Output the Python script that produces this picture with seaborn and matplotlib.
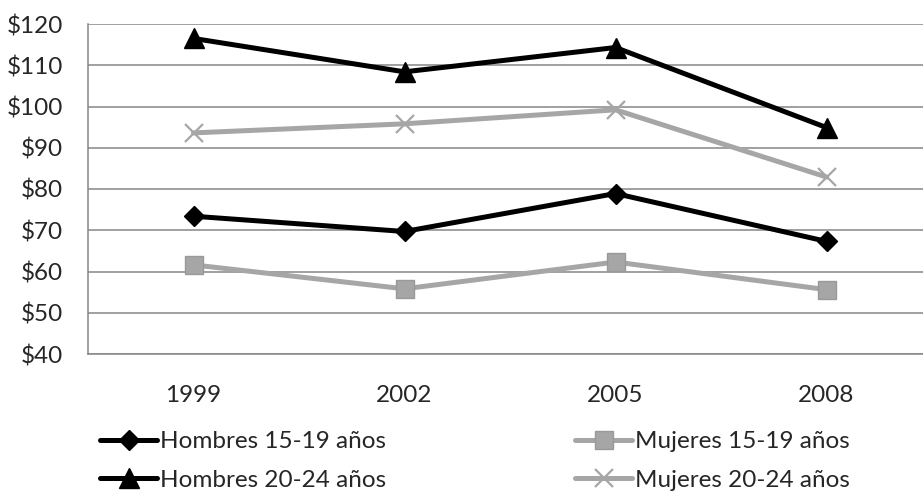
import pandas as pd
import matplotlib
matplotlib.use('Agg')
import matplotlib.pyplot as plt
import matplotlib.ticker as mticker
import seaborn as sns

# datos
anios = ['1999', '2002', '2005', '2008']
hombres_15_19 = [73.4, 69.7, 78.9, 67.3]
mujeres_15_19 = [61.6, 55.8, 62.3, 55.6]
hombres_20_24 = [116.5, 108.4, 114.3, 94.9]
mujeres_20_24 = [93.6, 95.8, 99.2, 82.9]

series = {
    'Hombres 15-19 años': hombres_15_19,
    'Mujeres 15-19 años': mujeres_15_19,
    'Hombres 20-24 años': hombres_20_24,
    'Mujeres 20-24 años': mujeres_20_24,
}

NEGRO = '#000000'
GRIS = '#A6A6A6'
GRIS_EJE = '#868686'
FS = 17.5

estilos = {
    'Hombres 15-19 años': dict(color=NEGRO, marker='D', ms=10, mfc=NEGRO, mec=NEGRO),
    'Mujeres 15-19 años': dict(color=GRIS, marker='s', ms=13, mfc=GRIS, mec='#999999'),
    'Hombres 20-24 años': dict(color=NEGRO, marker='^', ms=14, mfc=NEGRO, mec=NEGRO),
    'Mujeres 20-24 años': dict(color=GRIS, marker='x', ms=13, mfc=GRIS, mec=GRIS, mew=1.6),
}

df = pd.DataFrame([
    {'Anio': a, 'Valor': v, 'Serie': s}
    for s, vals in series.items() for a, v in zip(anios, vals)
])

sns.set_style('white')
plt.rcParams['font.family'] = ['Lato', 'DejaVu Sans']

fig = plt.figure(figsize=(9.23, 4.91), dpi=100)
W, H = 923, 491
ax = fig.add_axes([88 / W, 1 - 354 / H, 844 / W, 330 / H])

for nombre in series:
    sub = df[df['Serie'] == nombre]
    est = estilos[nombre]
    sns.lineplot(data=sub, x='Anio', y='Valor', ax=ax, color=est['color'],
                 linewidth=3.6, marker=est['marker'], markersize=est['ms'],
                 markerfacecolor=est['mfc'], markeredgecolor=est['mec'],
                 markeredgewidth=est.get('mew', 1), label=nombre, zorder=3)

ax.set_xlim(-0.5, 3.5)
ax.set_ylim(40, 120)
ax.yaxis.set_major_locator(mticker.MultipleLocator(10))
ax.yaxis.set_major_formatter(mticker.FuncFormatter(lambda v, p: f'${v:.0f}'))
ax.yaxis.grid(True, color=GRIS_EJE, linewidth=1.1)
ax.xaxis.grid(False)
ax.set_xlabel('')
ax.set_ylabel('')

ax.xaxis.set_minor_locator(mticker.FixedLocator([-0.5, 0.5, 1.5, 2.5, 3.5]))
ax.tick_params(axis='x', which='major', length=0, pad=22, labelsize=FS)
ax.tick_params(axis='x', which='minor', length=6, color=GRIS_EJE, width=1.1)
ax.tick_params(axis='y', which='major', length=6, color=GRIS_EJE, width=1.1,
               pad=12, labelsize=FS)

for lado in ['top', 'right']:
    ax.spines[lado].set_visible(False)
for lado in ['left', 'bottom']:
    ax.spines[lado].set_color(GRIS_EJE)
    ax.spines[lado].set_linewidth(1.1)

if ax.get_legend():
    ax.get_legend().remove()

handles, labels = ax.get_legend_handles_labels()
hl = dict(zip(labels, handles))

kw = dict(frameon=False, fontsize=FS, handlelength=2.35, handletextpad=0.12,
          labelspacing=0.72, borderaxespad=0, borderpad=0, loc='center left')
fig.legend([hl['Hombres 15-19 años'], hl['Hombres 20-24 años']],
           ['Hombres 15-19 años', 'Hombres 20-24 años'],
           bbox_to_anchor=(100 / W, 1 - 461 / H), **kw)
fig.legend([hl['Mujeres 15-19 años'], hl['Mujeres 20-24 años']],
           ['Mujeres 15-19 años', 'Mujeres 20-24 años'],
           bbox_to_anchor=(575 / W, 1 - 461 / H), **kw)

fig.savefig('out.png', dpi=100)
